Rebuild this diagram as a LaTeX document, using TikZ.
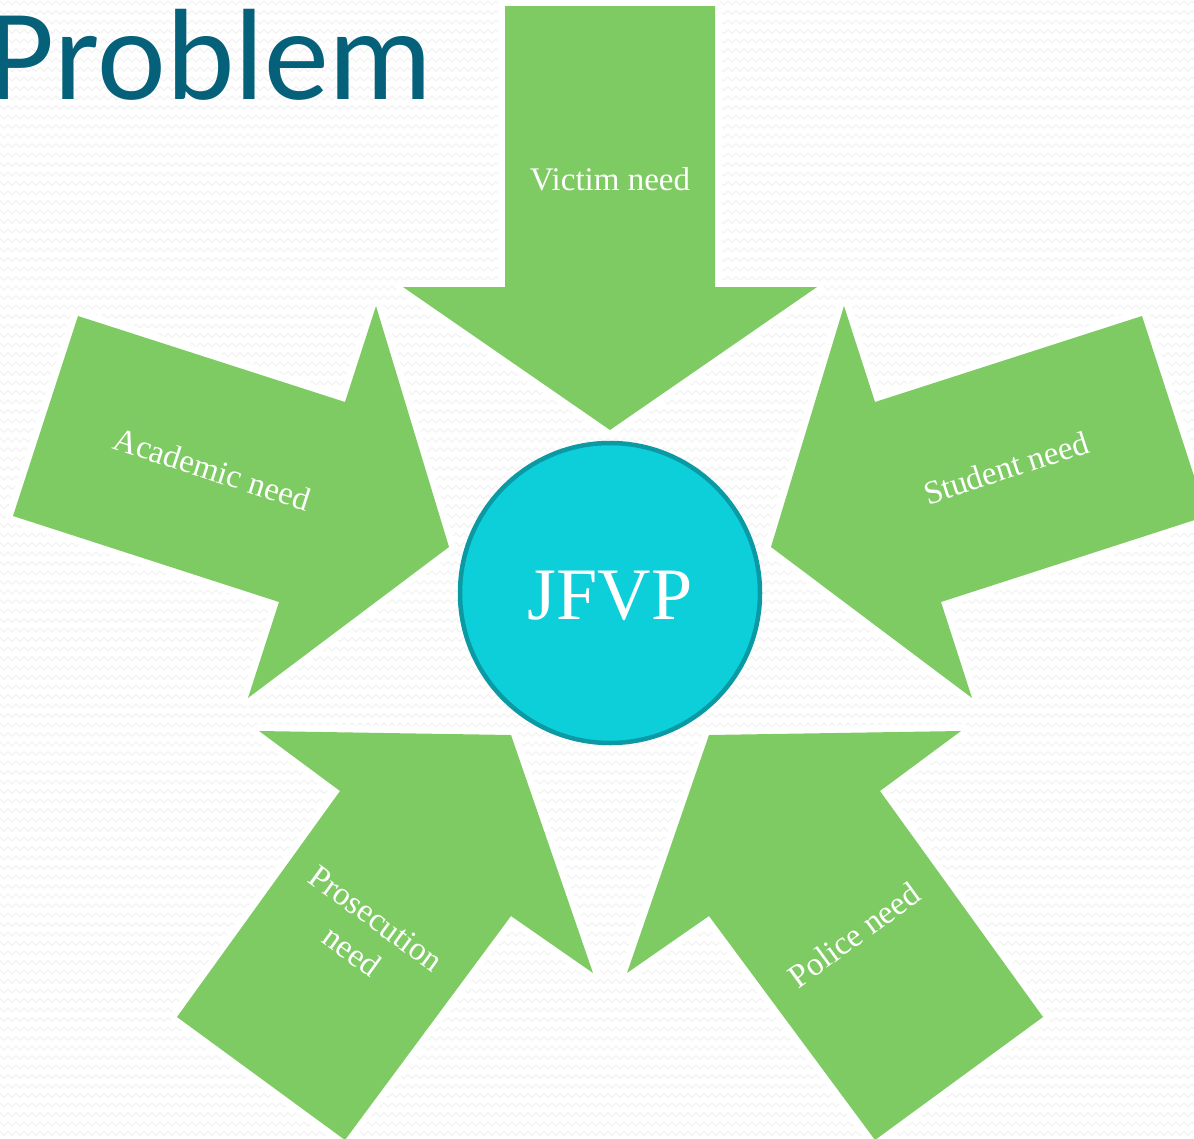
\documentclass[tikz,border=0pt]{standalone}
\usepackage{fontspec}
\setmainfont{Liberation Serif}
\newfontfamily\titlefont{Carlito}
\usetikzlibrary{decorations.pathmorphing}
\definecolor{arrowgreen}{HTML}{7ECB63}
\definecolor{hubfill}{HTML}{0DCFD9}
\definecolor{hubline}{HTML}{0B9AA3}
\definecolor{titleblue}{HTML}{05607A}
\definecolor{bgpat}{HTML}{F1F1F1}
\begin{document}
\begin{tikzpicture}[x=1pt,y=-1pt,
  needarrow/.style={fill=arrowgreen, preaction={draw=white, line width=14pt, line join=round}},
  lbl/.style={text=white, inner sep=0pt, font=\fontsize{33}{41}\selectfont},
  bgzig/.style={draw=bgpat, line width=1pt, decorate, decoration={zigzag, segment length=8pt, amplitude=2pt}}]
\useasboundingbox (0,0) rectangle (1194,1138);
\clip (0,0) rectangle (1194,1138);
\fill[white] (0,0) rectangle (1194,1138);
\foreach \r in {0,...,120} {
  \draw[bgzig] (-10,\r*9.5+3) -- (1204,\r*9.5+3);
}
% title
\node[anchor=base east, inner sep=0pt, text=titleblue, font=\titlefont\fontsize{130}{130}\selectfont] (title) at (433,99) {Problem};
% arrows
\path[needarrow] (505,6) -- (715,6) -- (715,287) -- (817,287) -- (610,430) -- (403,287) -- (505,287) -- cycle;
\path[needarrow] (78,316) -- (345,402) -- (376,306) -- (449,547) -- (248,698) -- (279,602) -- (13,516) -- cycle;
\path[needarrow] (1142,316) -- (875,402) -- (844,306) -- (771,547) -- (972,698) -- (941,602) -- (1207,516) -- cycle;
\path[needarrow] (259,731) -- (511,735) -- (593,973) -- (511,916) -- (345,1140) -- (177,1017) -- (340,791) -- cycle;
\path[needarrow] (961,731) -- (709,735) -- (627,973) -- (709,916) -- (875,1140) -- (1043,1017) -- (880,791) -- cycle;
% hub
\node[circle, minimum size=300pt, inner sep=0pt, fill=hubfill, draw=hubline, line width=4.5pt] (hub) at (610,593) {};
\node[text=white, inner sep=0pt, anchor=base, font=\fontsize{74}{80}\selectfont] (hubtext) at (610,619) {JFVP};
% labels
\node[lbl, anchor=base] (victim) at (610,190) {Victim need};
\node[lbl, rotate=-18] (academic) at (212,469) {Academic need};
\node[lbl, rotate=18] (student) at (1006,468) {Student need};
\node[lbl, rotate=-36, align=center] (prosecution) at (364,935) {Prosecution\\need};
\node[lbl, rotate=36] (police) at (854,935) {Police need};
\end{tikzpicture}
\end{document}
